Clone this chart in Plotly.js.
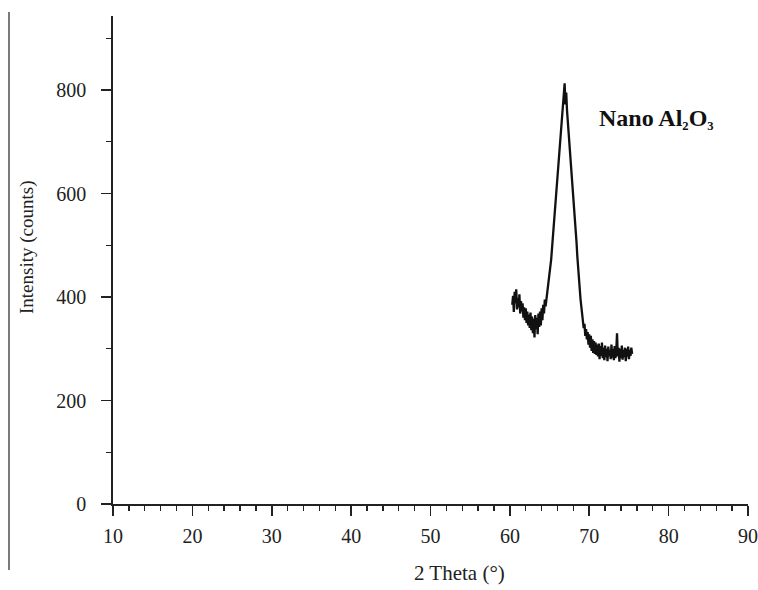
<!DOCTYPE html>
<html>
<head>
<meta charset="utf-8">
<script src="https://cdn.plot.ly/plotly-3.0.1.min.js"></script>
<style>html,body{margin:0;padding:0;background:#fff;}#chart{width:758px;height:590px;}</style>
</head>
<body>
<div id="chart"></div>
<script>
// 2θ scan positions (degrees)
const twoTheta = [
60.3,60.4,60.5,60.6,60.7,60.8,60.9,61.0,61.1,61.2,61.3,61.4,61.5,61.6,61.7,61.8,61.9,62.0,62.1,62.2,
62.3,62.4,62.5,62.6,62.7,62.8,62.9,63.0,63.1,63.2,63.3,63.4,63.5,63.6,63.7,63.8,63.9,64.0,64.1,64.2,
64.3,64.4,64.5,64.6,64.7,64.8,64.9,65.0,65.1,65.2,65.3,65.4,65.5,65.6,65.7,65.8,65.9,66.0,66.1,66.2,
66.3,66.4,66.5,66.6,66.7,66.8,66.9,67.0,67.1,67.2,67.3,67.4,67.5,67.6,67.7,67.8,67.9,68.0,68.1,68.2,
68.3,68.4,68.5,68.6,68.7,68.8,68.9,69.0,69.1,69.2,69.3,69.4,69.5,69.6,69.7,69.8,69.9,70.0,70.1,70.2,
70.3,70.4,70.5,70.6,70.7,70.8,70.9,71.0,71.1,71.2,71.3,71.4,71.5,71.6,71.7,71.8,71.9,72.0,72.1,72.2,
72.3,72.4,72.5,72.6,72.7,72.8,72.9,73.0,73.1,73.2,73.3,73.4,73.5,73.6,73.7,73.8,73.9,74.0,74.1,74.2,
74.3,74.4,74.5,74.6,74.7,74.8,74.9,75.0,75.1,75.2,75.3,75.4
];
// Intensity (counts)
const intensity = [
385,402,371,410,388,415,376,398,380,405,368,392,372,388,360,380,355,378,350,372,
345,366,340,370,336,362,330,358,322,365,338,360,328,368,342,372,345,378,355,385,
368,395,382,395,402,415,425,438,452,472,492,512,532,552,571,591,610,630,650,670,
690,709,730,750,768,785,813,772,795,760,740,712,695,678,658,640,620,600,578,555,
530,505,478,452,430,412,396,382,370,358,340,348,325,338,318,332,308,328,302,325,
296,318,292,315,290,312,288,308,285,310,280,305,286,312,282,302,278,306,284,300,
276,304,286,298,280,308,283,300,278,305,282,296,330,285,302,275,300,282,306,279,
298,284,302,276,300,285,304,280,298,286,302,290
];
const xTickStart = 10, xTickStep = 10, xMinorStep = 2;
const yTickStep = 200, yMinorStep = 100;
const xRange = [10, 90], yRange = [0, 943];
const xTitle = "2 Theta (°)";
const yTitle = "Intensity (counts)";
const sampleLabel = "<b>Nano Al<span style=\"font-size:18px\"><sub>2</sub></span>O<span style=\"font-size:18px\"><sub>3</sub></span></b>";

const serif = "Liberation Serif, Times New Roman, serif";
const axisColor = "#222";

const trace = {
  x: twoTheta, y: intensity, type: "scatter", mode: "lines",
  line: {color: "#111", width: 2.3}, hoverinfo: "x+y", showlegend: false
};

const layout = {
  width: 758, height: 590,
  margin: {l: 113, r: 10, t: 16, b: 86},
  paper_bgcolor: "#fff", plot_bgcolor: "#fff",
  font: {family: serif, color: "#222", size: 20},
  xaxis: {
    range: xRange, tickmode: "linear", tick0: xTickStart, dtick: xTickStep,
    ticks: "outside", ticklen: 10, tickwidth: 1.6, tickcolor: axisColor,
    showline: true, linecolor: axisColor, linewidth: 1.8,
    showgrid: false, zeroline: false, ticklabelstandoff: 3,
    tickfont: {family: serif, size: 20, color: "#222"},
    minor: {ticks: "outside", tick0: xTickStart, dtick: xMinorStep, ticklen: 5, tickwidth: 1.4, tickcolor: axisColor, showgrid: false}
  },
  yaxis: {
    range: yRange, tickmode: "linear", tick0: 0, dtick: yTickStep,
    ticks: "outside", ticklen: 10, tickwidth: 1.6, tickcolor: axisColor,
    showline: true, linecolor: axisColor, linewidth: 1.8,
    showgrid: false, zeroline: false, ticklabelstandoff: 11,
    tickfont: {family: serif, size: 20, color: "#222"},
    minor: {ticks: "outside", tick0: 0, dtick: yMinorStep, ticklen: 5, tickwidth: 1.4, tickcolor: axisColor, showgrid: false}
  },
  annotations: [
    {xref: "paper", yref: "paper", x: (597 - 113) / 635, y: (504 - 119) / 488, xanchor: "left", yanchor: "middle",
     text: sampleLabel, showarrow: false, font: {family: serif, size: 24, color: "#111"}},
    {xref: "paper", yref: "paper", x: (459 - 113) / 635, y: (504 - 573) / 488, xanchor: "center", yanchor: "middle",
     text: xTitle, showarrow: false, font: {family: serif, size: 21, color: "#222"}},
    {xref: "paper", yref: "paper", x: (27 - 113) / 635, y: (504 - 247) / 488, xanchor: "center", yanchor: "middle",
     text: yTitle, textangle: -90, showarrow: false, font: {family: serif, size: 19, color: "#222"}}
  ],
  shapes: [
    {type: "line", xref: "paper", yref: "paper", x0: (9 - 113) / 635, x1: (9 - 113) / 635,
     y0: (504 - 12) / 488, y1: (504 - 570) / 488, line: {color: "#222", width: 1.2}}
  ]
};

Plotly.newPlot("chart", [trace], layout, {displayModeBar: false, staticPlot: true});
</script>
</body>
</html>
